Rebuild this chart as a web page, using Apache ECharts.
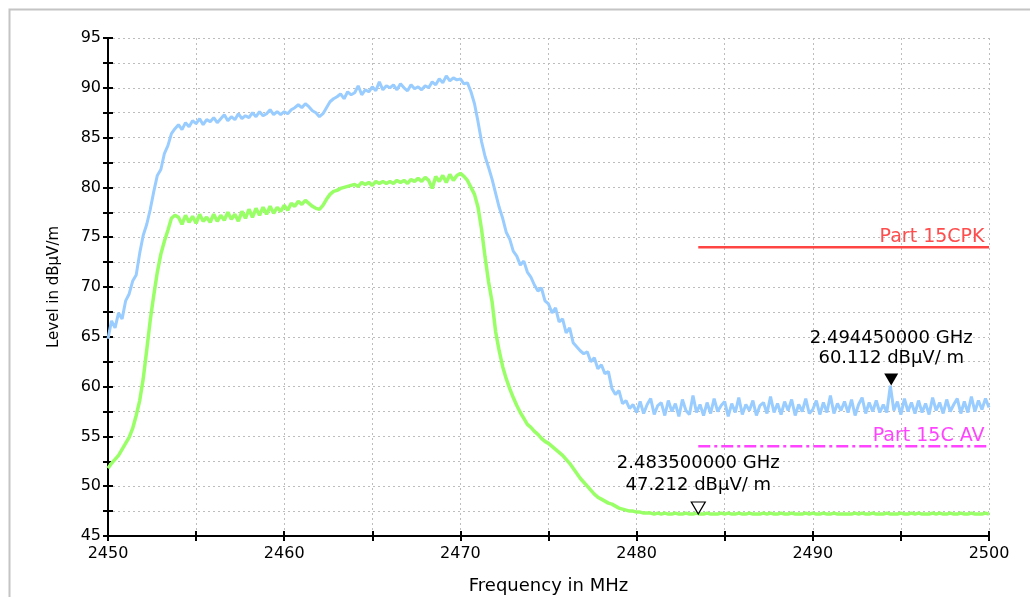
<!DOCTYPE html>
<html>
<head>
<meta charset="utf-8">
<script src="https://cdn.jsdelivr.net/npm/echarts@6/dist/echarts.min.js"></script>
<style>html,body{margin:0;padding:0;background:#fff;}#c{width:1030px;height:597px;}</style>
</head>
<body>
<div id="c"></div>
<script>
// Frequency grid: 2450 .. 2500 MHz, step 0.2 MHz
const fStart = 2450, fStep = 0.2;
// Peak trace (light blue), dBµV/m
const peakLevel = [
64.8,66.6,65.9,67.4,66.8,68.6,69.3,70.6,71.2,73.4,
75.2,76.3,77.8,79.6,81.2,81.8,83.4,84.2,85.4,85.9,
86.3,85.8,86.5,86.1,86.7,86.4,86.9,86.3,86.8,86.6,
87.0,86.5,86.9,87.3,86.7,87.1,86.8,87.4,86.9,87.2,
87.0,87.5,87.1,87.6,87.2,87.4,87.8,87.3,87.6,87.3,
87.6,87.4,87.8,88.0,88.3,88.0,88.4,88.1,87.7,87.5,
87.1,87.4,88.0,88.6,88.9,89.1,89.4,88.9,89.6,89.3,
89.5,90.2,89.3,89.8,89.6,90.1,89.7,90.6,89.8,90.2,
90.0,90.3,89.8,90.4,90.0,89.7,90.3,89.9,90.1,89.8,
90.2,90.0,90.6,90.3,90.9,90.5,91.2,90.7,91.0,90.8,
90.9,90.4,90.5,89.6,88.4,86.6,84.6,83.1,82.0,80.8,
79.4,78.0,76.9,75.5,74.8,73.6,73.1,72.2,72.6,71.5,
71.0,70.2,69.6,69.9,68.6,68.3,67.4,67.9,66.5,66.8,
65.4,65.9,64.4,64.0,63.6,63.3,63.5,62.5,62.9,61.8,
62.2,61.3,61.5,59.8,59.2,59.6,58.3,58.6,57.8,58.2,
57.4,58.5,57.3,58.2,58.8,57.2,58.1,58.4,57.1,58.6,
57.5,58.3,57.0,58.7,57.6,57.2,59.1,57.4,58.2,57.1,
58.4,57.3,58.8,57.5,58.1,58.5,57.0,58.3,57.4,58.9,
57.2,58.2,57.6,58.6,57.1,58.1,58.4,57.3,59.0,57.4,
58.3,57.2,58.5,57.6,58.7,57.1,58.2,57.5,58.8,57.3,
57.7,58.6,57.2,58.4,57.4,59.1,57.3,58.3,57.6,58.5,
57.4,58.7,57.1,58.2,58.9,57.3,58.4,57.5,58.6,57.4,
58.2,57.4,60.1,57.6,58.5,57.2,58.8,57.5,58.4,57.3,
58.6,57.4,58.3,57.2,58.9,57.6,58.4,57.3,58.7,57.5,
58.2,58.8,57.3,58.5,57.4,59.0,57.5,58.6,57.7,58.8,
57.9
];
// Average trace (light green), dBµV/m
const avgLevel = [
51.8,52.3,52.7,53.1,53.7,54.3,54.9,55.8,57.1,58.6,
60.8,63.7,66.7,69.2,71.5,73.3,74.6,75.7,76.9,77.2,
77.0,76.3,77.2,76.5,77.1,76.4,77.3,76.6,77.0,76.5,
77.3,76.6,77.2,76.7,77.5,76.8,77.3,76.6,77.6,76.9,
77.8,77.0,77.9,77.2,78.0,77.3,78.1,77.4,78.0,77.6,
78.2,77.7,78.4,78.1,78.6,78.3,78.7,78.4,78.1,77.9,
77.8,78.2,78.8,79.3,79.6,79.7,79.9,80.0,80.1,80.2,
80.3,80.1,80.5,80.3,80.5,80.2,80.6,80.4,80.6,80.4,
80.6,80.4,80.7,80.5,80.7,80.4,80.8,80.6,80.9,80.6,
81.0,80.7,79.9,81.1,80.6,81.2,80.5,81.3,80.7,81.2,
81.4,81.1,80.7,80.0,79.3,78.0,75.8,73.0,70.5,68.5,
65.5,63.6,62.0,60.8,59.8,58.9,58.1,57.4,56.8,56.2,
55.9,55.5,55.2,54.8,54.5,54.3,54.0,53.7,53.4,53.1,
52.7,52.3,51.8,51.3,50.8,50.4,50.0,49.6,49.2,48.9,
48.7,48.5,48.3,48.2,48.0,47.8,47.7,47.6,47.5,47.5,
47.4,47.4,47.3,47.3,47.3,47.2,47.3,47.2,47.3,47.2,
47.2,47.3,47.2,47.2,47.3,47.2,47.2,47.3,47.2,47.2,
47.3,47.2,47.2,47.2,47.3,47.2,47.3,47.2,47.2,47.3,
47.2,47.2,47.3,47.2,47.2,47.2,47.3,47.2,47.3,47.2,
47.2,47.3,47.2,47.2,47.3,47.2,47.2,47.2,47.3,47.2,
47.3,47.2,47.2,47.3,47.2,47.2,47.3,47.2,47.2,47.2,
47.2,47.2,47.3,47.2,47.3,47.2,47.2,47.3,47.2,47.2,
47.2,47.3,47.2,47.2,47.2,47.3,47.2,47.2,47.3,47.2,
47.3,47.2,47.2,47.2,47.3,47.2,47.3,47.2,47.2,47.3,
47.2,47.2,47.3,47.2,47.2,47.3,47.2,47.2,47.2,47.3,
47.2
];
// Limit lines
const limitPK = { name: 'Part 15CPK', from: 2483.5, to: 2500, level: 74 };
const limitAV = { name: 'Part 15C AV', from: 2483.5, to: 2500, level: 54 };
// Markers
const marker1 = { freq: 2494.45, level: 60.112, text: '2.494450000 GHz\n60.112 dBµV/ m' };
const marker2 = { freq: 2483.5, level: 47.212, text: '2.483500000 GHz\n47.212 dBµV/ m' };
// Axis
const xMin = 2450, xMax = 2500, xInterval = 5;
const yMin = 45, yMax = 95, yInterval = 2.5;

const toPairs = arr => arr.map((v, i) => [+(fStart + i * fStep).toFixed(2), v]);
const FONT = 'DejaVu Sans';

const chart = echarts.init(document.getElementById('c'), null, { renderer: 'canvas' });

function baseX(extra) {
  return Object.assign({
    type: 'value', min: xMin, max: xMax, interval: xInterval, position: 'bottom',
    axisLine: { show: true, lineStyle: { color: '#000', width: 2 } },
    axisTick: { show: true, length: 5, lineStyle: { color: '#000', width: 2 } },
    splitLine: { show: false }, axisLabel: { show: false }
  }, extra);
}
function baseY(extra) {
  return Object.assign({
    type: 'value', min: yMin, max: yMax, interval: yInterval, position: 'left',
    axisLine: { show: true, lineStyle: { color: '#000', width: 2 } },
    axisTick: { show: true, length: 5, lineStyle: { color: '#000', width: 2 } },
    splitLine: { show: false }, axisLabel: { show: false }
  }, extra);
}

const option = {
  animation: false,
  backgroundColor: '#fff',
  graphic: [{
    type: 'rect', left: 7, top: 7, shape: { width: 1100, height: 700 },
    style: { fill: 'none', stroke: '#c4c4c4', lineWidth: 2 }, silent: true, z: -10
  }],
  grid: { left: 108, right: 41, top: 38, bottom: 61, containLabel: false, outerBoundsMode: 'none' },
  xAxis: [
    baseX({
      name: 'Frequency in MHz', nameLocation: 'middle', nameGap: 41,
      nameTextStyle: { fontFamily: FONT, fontSize: 18, color: '#000' },
      splitLine: { show: true, lineStyle: { color: '#bdbdbd', type: [2, 3], width: 1 } },
      axisLabel: {
        show: true, margin: 10, fontFamily: FONT, fontSize: 16, color: '#000',
        formatter: v => (Math.round(v) % 10 === 0 ? String(Math.round(v)) : '')
      }
    }),
    baseX({ axisTick: { show: true, inside: true, length: 5, lineStyle: { color: '#000', width: 2 } }, axisLine: { show: false } })
  ],
  yAxis: [
    baseY({
      name: 'Level in dBµV/m', nameLocation: 'middle', nameGap: 46, nameRotate: 90,
      nameTextStyle: { fontFamily: FONT, fontSize: 15, color: '#000' },
      splitLine: { show: true, lineStyle: { color: '#bdbdbd', type: [2, 3], width: 1 } },
      axisLabel: {
        show: true, margin: 7, fontFamily: FONT, fontSize: 16, color: '#000',
        formatter: v => (Math.abs(v % 5) < 1e-6 ? String(v) : '')
      }
    }),
    baseY({ axisTick: { show: true, inside: true, length: 5, lineStyle: { color: '#000', width: 2 } }, axisLine: { show: false } })
  ],
  series: [
    {
      name: 'Peak', type: 'line', data: toPairs(peakLevel), showSymbol: false, symbol: 'none',
      lineStyle: { color: '#99ccff', width: 3 }, z: 2,
      markPoint: {
        symbol: 'triangle', symbolRotate: 180, symbolSize: [14, 12], symbolOffset: [0, -6],
        itemStyle: { color: '#000' },
        label: { show: true, position: 'top', distance: 5, color: '#000', fontFamily: FONT, fontSize: 18, lineHeight: 20, align: 'center', formatter: marker1.text },
        data: [{ coord: [marker1.freq, marker1.level] }]
      }
    },
    {
      name: 'Average', type: 'line', data: toPairs(avgLevel), showSymbol: false, symbol: 'none',
      lineStyle: { color: '#99ff66', width: 3.5 }, z: 3,
      markPoint: {
        symbol: 'triangle', symbolRotate: 180, symbolSize: [14, 12], symbolOffset: [0, -6],
        itemStyle: { color: '#fff', borderColor: '#000', borderWidth: 1.2 },
        label: { show: true, position: 'top', distance: 5, color: '#000', fontFamily: FONT, fontSize: 18, lineHeight: 22, align: 'center', formatter: marker2.text },
        data: [{ coord: [marker2.freq, marker2.level] }]
      }
    },
    {
      name: limitPK.name, type: 'line', showSymbol: false, symbol: 'none',
      data: [[limitPK.from, limitPK.level], [limitPK.to, limitPK.level]],
      lineStyle: { color: '#ff4444', width: 2.5 }, z: 4,
      markPoint: {
        symbol: 'circle', symbolSize: 1, itemStyle: { color: 'rgba(0,0,0,0)' },
        label: { show: true, position: 'left', distance: 4, offset: [0, -10], color: '#ff4d4d', fontFamily: FONT, fontSize: 19, formatter: limitPK.name },
        data: [{ coord: [limitPK.to, limitPK.level] }]
      }
    },
    {
      name: limitAV.name, type: 'line', showSymbol: false, symbol: 'none',
      data: [[limitAV.from, limitAV.level], [limitAV.to, limitAV.level]],
      lineStyle: { color: '#ff44ff', width: 2.5, type: [12, 4, 3, 4] }, z: 4,
      markPoint: {
        symbol: 'circle', symbolSize: 1, itemStyle: { color: 'rgba(0,0,0,0)' },
        label: { show: true, position: 'left', distance: 4, offset: [0, -10], color: '#ff44ff', fontFamily: FONT, fontSize: 19, formatter: limitAV.name },
        data: [{ coord: [limitAV.to, limitAV.level] }]
      }
    }
  ]
};
chart.setOption(option);
</script>
</body>
</html>
